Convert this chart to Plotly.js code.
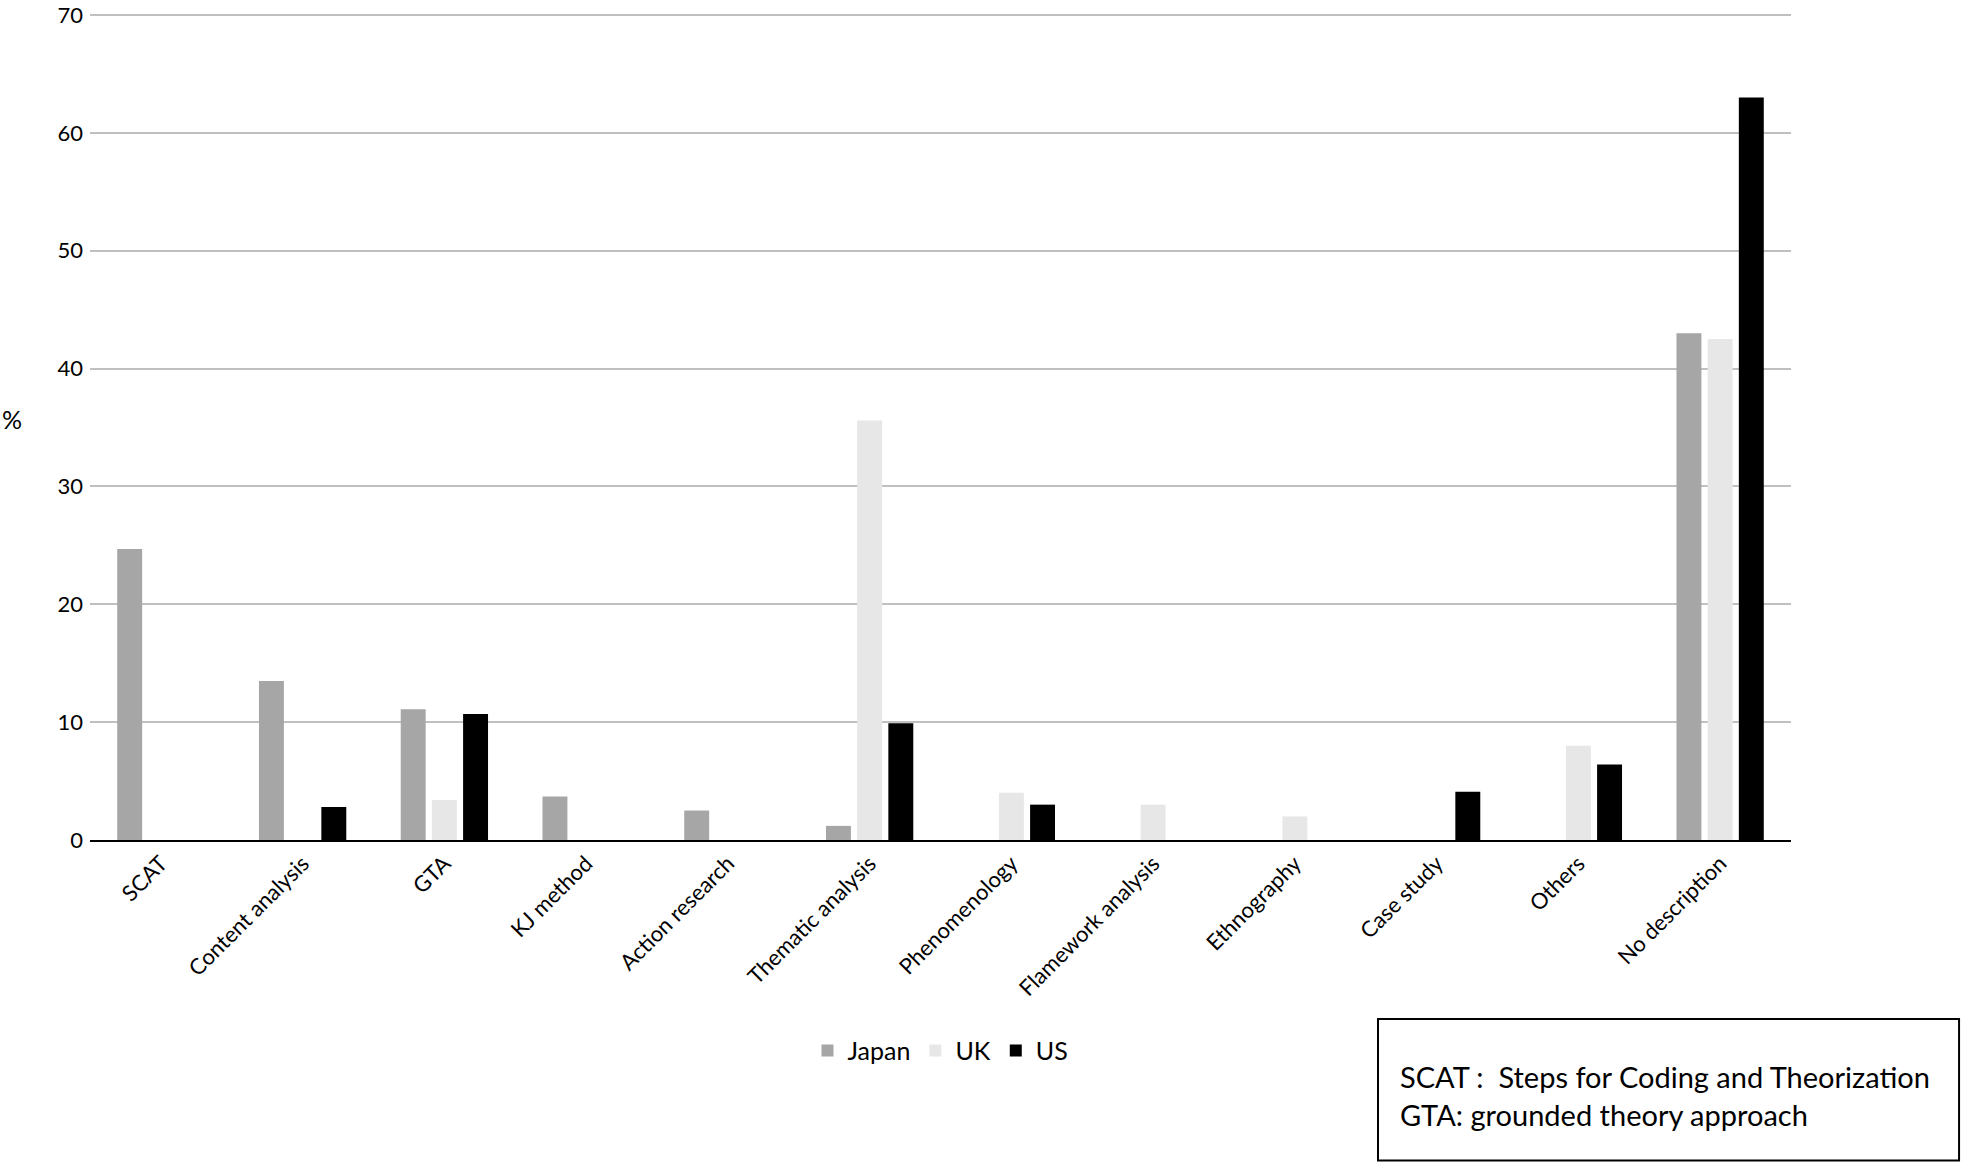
<!DOCTYPE html>
<html>
<head>
<meta charset="utf-8">
<script src="https://cdn.plot.ly/plotly-3.0.1.min.js"></script>
<style>html,body{margin:0;padding:0;background:#fff;}#chart{width:1961px;height:1162px;}</style>
</head>
<body>
<div id="chart"></div>
<script>
const categories = ["SCAT", "Content analysis", "GTA", "KJ method", "Action research", "Thematic analysis", "Phenomenology", "Flamework analysis", "Ethnography", "Case study", "Others", "No description"];
const japan = [24.7, 13.5, 11.1, 3.7, 2.5, 1.2, 0, 0, 0, 0, 0, 43.0];
const uk    = [0, 0, 3.4, 0, 0, 35.6, 4.0, 3.0, 2.0, 0, 8.0, 42.5];
const us    = [0, 2.8, 10.7, 0, 0, 9.9, 3.0, 0, 0, 4.1, 6.4, 63.0];
const seriesNames = ["Japan", "UK", "US"];
const yTicks = [0, 10, 20, 30, 40, 50, 60, 70];
const noteText = "SCAT :&nbsp; Steps for Coding and Theorization<br>GTA: grounded theory approach";

const FONT = "Lato, 'Open Sans', sans-serif";
const colors = ["#a6a6a6", "#e7e7e7", "#000000"];
const data = [japan, uk, us].map((vals, i) => ({
  type: "bar",
  name: seriesNames[i],
  x: categories,
  y: vals,
  marker: {color: colors[i], line: {width: 0}},
  hoverinfo: "x+y+name"
}));

const layout = {
  width: 1961, height: 1162,
  margin: {l: 90, r: 170, t: 0, b: 322},
  paper_bgcolor: "#fff", plot_bgcolor: "#fff",
  font: {family: FONT, color: "#000", size: 21},
  barmode: "group",
  bargap: 0.34,
  bargroupgap: 0.2,
  xaxis: {
    type: "category",
    tickangle: -45,
    tickfont: {family: FONT, size: 22, color: "#000"},
    showgrid: false,
    showline: true, linecolor: "#000", linewidth: 2,
    ticks: "",
    zeroline: false
  },
  yaxis: {
    range: [0, 71.27],
    tickvals: yTicks,
    ticktext: yTicks.map(String),
    tickfont: {family: FONT, size: 22, color: "#000"},
    showgrid: true, gridcolor: "#c0c0c0", gridwidth: 2,
    showline: false, zeroline: false,
    ticks: "", ticklabelstandoff: 6,
    ticklabeloverflow: "allow"
  },
  showlegend: true,
  legend: {
    orientation: "h", x: 0.5, xanchor: "center", y: -0.251, yanchor: "middle",
    font: {family: FONT, size: 25, color: "#000"},
    traceorder: "normal"
  },
  shapes: [{
    type: "rect", xref: "paper", yref: "paper",
    x0: 0.7572, x1: 1.0988, y0: -0.3815, y1: -0.213,
    line: {color: "#000", width: 2}, fillcolor: "rgba(0,0,0,0)"
  }],
  annotations: [
    {xref: "paper", yref: "paper", x: -0.053, y: 0.5012, xanchor: "left", yanchor: "middle",
     text: "%", showarrow: false, font: {family: FONT, size: 25, color: "#000"}},
    {xref: "paper", yref: "paper", x: 0.769, y: -0.3036, xanchor: "left", yanchor: "middle",
     align: "left", text: noteText, showarrow: false,
     font: {family: FONT, size: 29, color: "#000"}}
  ]
};

Plotly.newPlot("chart", data, layout, {displayModeBar: false, staticPlot: true});
</script>
</body>
</html>
